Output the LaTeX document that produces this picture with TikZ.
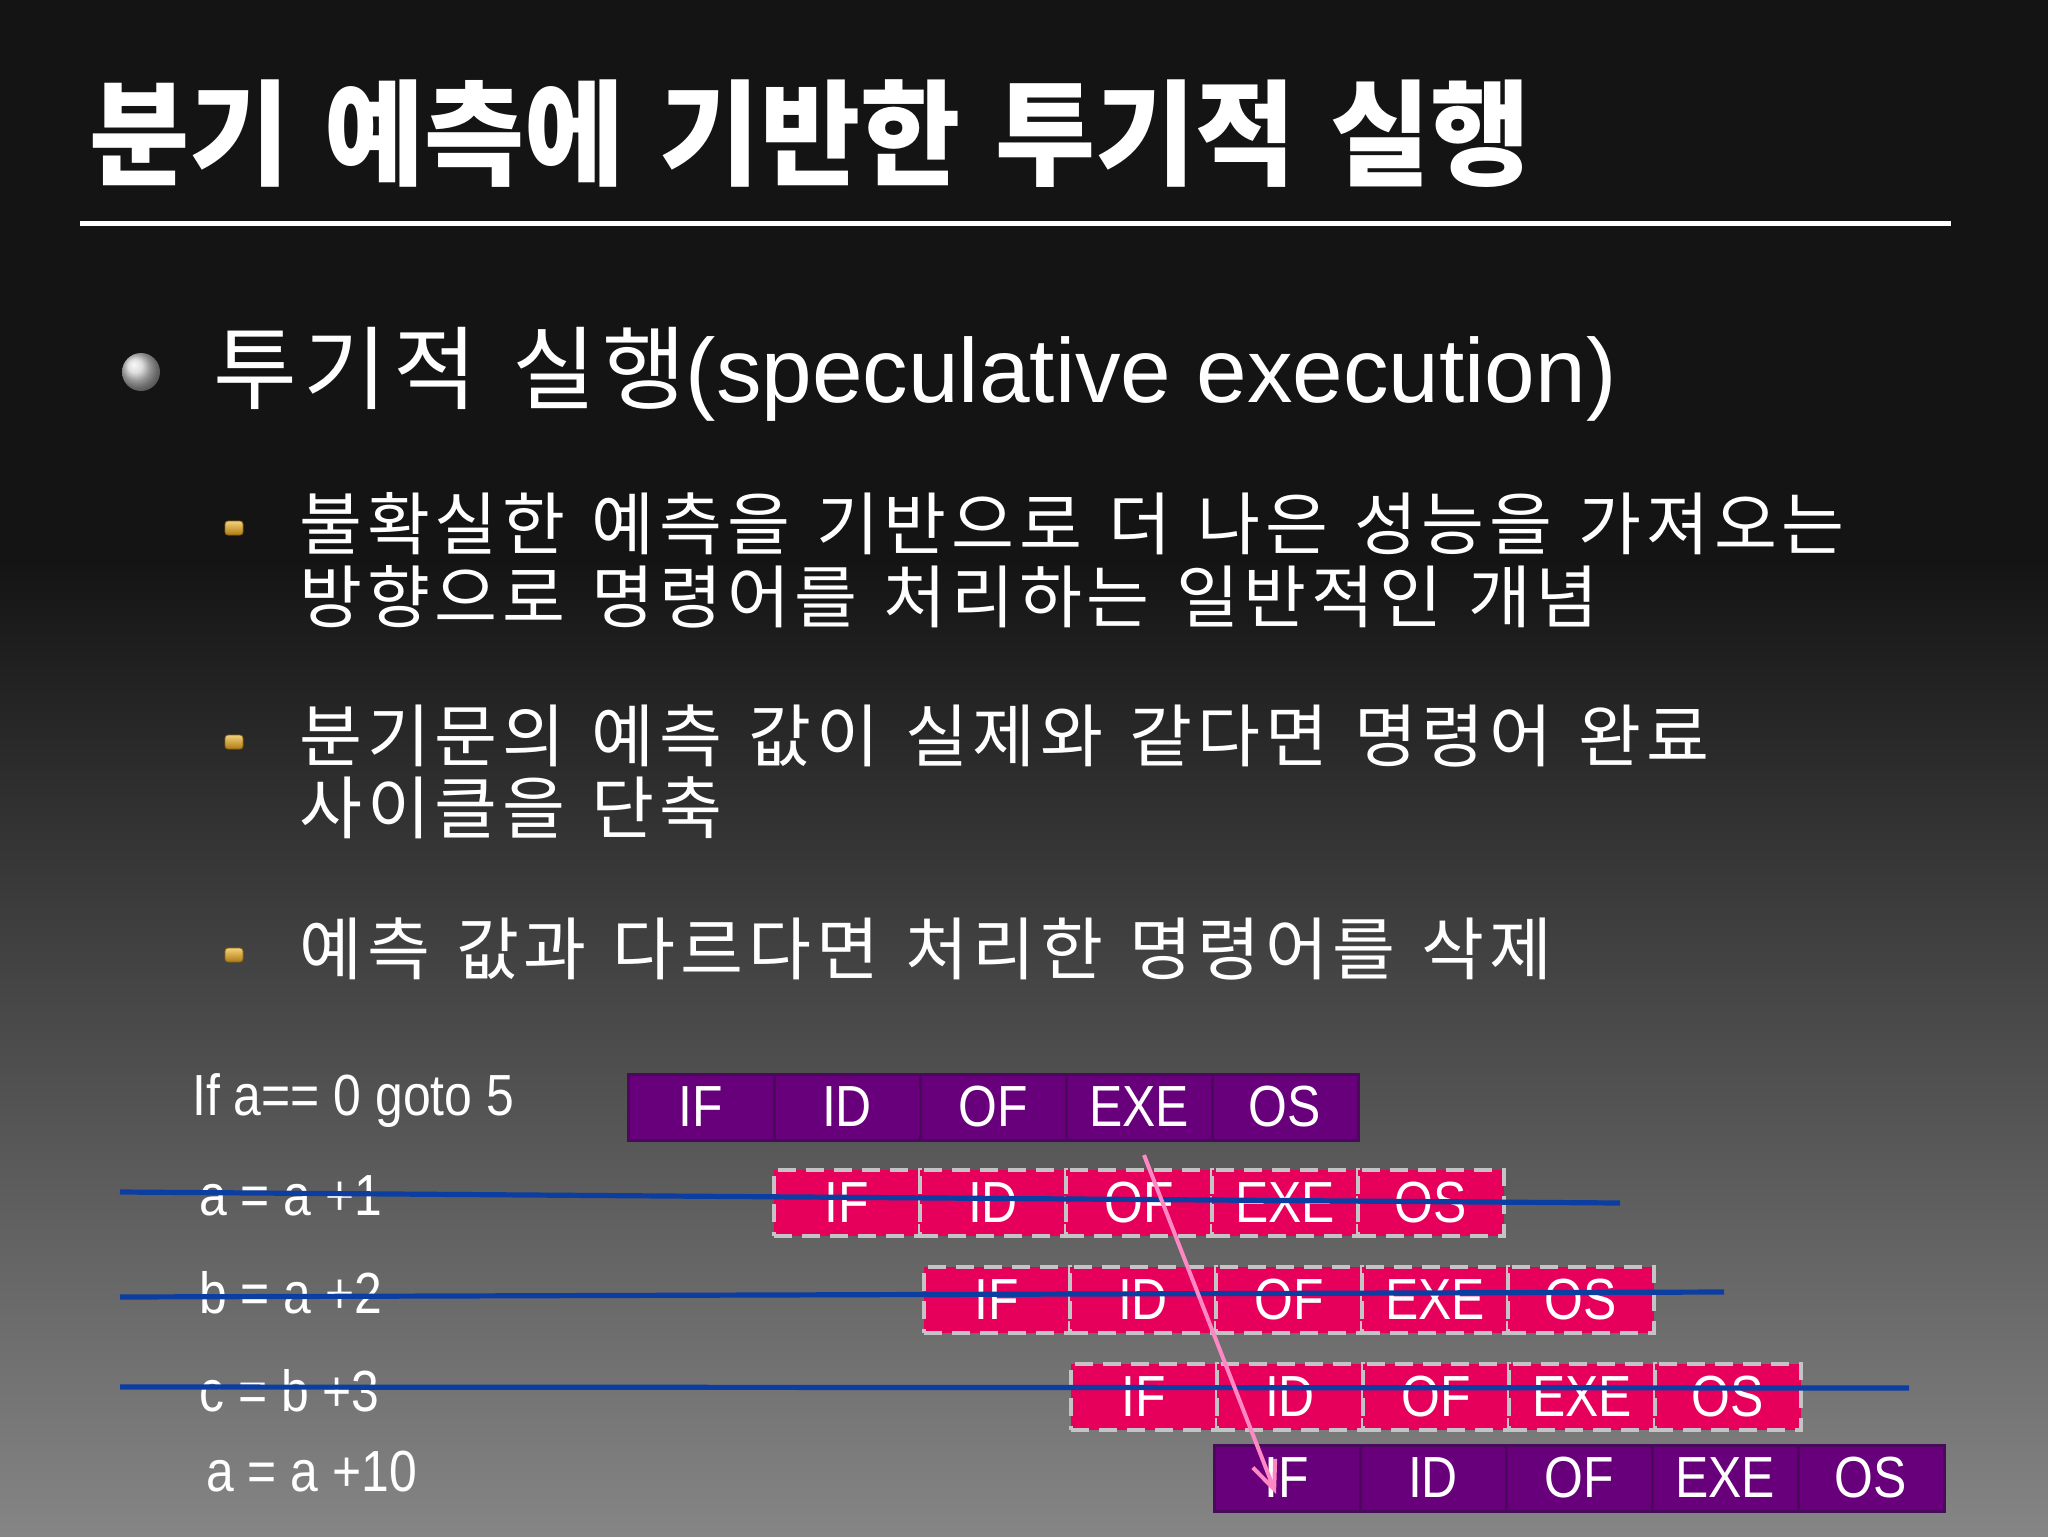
\documentclass[tikz,border=0pt]{standalone}
\usepackage{fontspec}
\usepackage{graphicx}
\usetikzlibrary{arrows.meta}
\setmainfont{Liberation Sans}
\newfontfamily\kr[WordSpace=1.4]{Noto Sans CJK KR}
\newfontfamily\krs[WordSpace=1.3,LetterSpace=7]{Noto Sans CJK KR}
\newfontfamily\krt[WordSpace=1.4,FakeStretch=0.95]{Noto Sans CJK KR}
\newfontfamily\nar[FakeStretch=0.86]{Liberation Sans}
\definecolor{bgtop}{HTML}{141414}
\definecolor{bgbot}{HTML}{858585}
\definecolor{purp}{HTML}{67007A}
\definecolor{purpdark}{HTML}{4A0A5C}
\definecolor{pinkc}{HTML}{E6005C}
\definecolor{dashgray}{HTML}{C4C4C4}
\definecolor{strike}{HTML}{0C3DA0}
\definecolor{arrowpink}{HTML}{FF88C4}
\definecolor{goldtop}{HTML}{F2D27A}
\definecolor{goldbot}{HTML}{B07A12}
\tikzset{
  cellp/.style={fill=purp, draw=purpdark, line width=1.5pt, minimum width=73pt, minimum height=33pt,
    inner sep=0pt, text=white, font=\nar\fontsize{29}{29}\selectfont},
  cellk/.style={fill=pinkc, draw=dashgray, line width=2pt, dash pattern=on 9pt off 5pt,
    minimum width=73pt, minimum height=33pt, inner sep=0pt, text=white, font=\nar\fontsize{29}{29}\selectfont},
  codelbl/.style={anchor=west, inner sep=0pt, text=white, font=\nar\fontsize{29}{29}\selectfont},
  subtxt/.style={anchor=base west, inner sep=0pt, text=white, font=\krs\fontsize{34.2}{34.2}\selectfont},
  goldbullet/.style={rounded corners=1.5pt, top color=goldtop, bottom color=goldbot, draw=goldbot!80!black, line width=0.4pt},
  strikeline/.style={draw=strike, line width=2.6pt},
  jumparrow/.style={draw=arrowpink, line width=2pt, -{Straight Barb[length=14pt,width=12pt,line width=2pt]}}
}
\begin{document}
\begin{tikzpicture}[x=0.5pt,y=-0.5pt]
\useasboundingbox (0,0) rectangle (2048,1536);
% background
\fill[bgtop] (0,0) rectangle (2048,1536);
\shade[top color=bgtop, bottom color=bgbot] (0,560) rectangle (2048,1536);
% title
\node[anchor=west, inner sep=0pt, text=white, font=\krt\bfseries\fontsize{57.3}{57.3}\selectfont] (title) at (89,134) {분기 예측에 기반한 투기적 실행};
\draw[white, line width=2.5pt] (80,223) -- (1951,223);
% main bullet
\shade[ball color=gray!35!white] (141,372) circle (9.5pt);
\node[anchor=base west, inner sep=0pt, text=white, font=\fontsize{45.5}{45.5}\selectfont] (b1) at (213,402) {{\krs 투기적 실행}(speculative execution)};
% sub bullets
\foreach \yy in {528,742,955}{
  \path[goldbullet] (225,\yy-7) rectangle (243,\yy+7);
}
\node[subtxt] (s1) at (299,549) {불확실한 예측을 기반으로 더 나은 성능을 가져오는};
\node[subtxt] (s2) at (299,622) {방향으로 명령어를 처리하는 일반적인 개념};
\node[subtxt] (s3) at (299,761) {분기문의 예측 값이 실제와 같다면 명령어 완료};
\node[subtxt] (s4) at (299,833) {사이클을 단축};
\node[subtxt] (s5) at (299,974) {예측 값과 다르다면 처리한 명령어를 삭제};
% code labels
\node[codelbl] (l0) at (192,1101) {If a== 0 goto 5};
\node[codelbl] (l1) at (199,1196) {a = a +1};
\node[codelbl] (l2) at (199,1293) {b = a +2};
\node[codelbl] (l3) at (199,1391) {c = b +3};
\node[codelbl] (l4) at (206,1472) {a = a +10};
% pipeline cells
\foreach \r/\yy/\st/\dx in {0/1107/cellp/0,1/1203/cellk/0,2/1300/cellk/4,3/1397/cellk/5,4/1478/cellp/2}{
  \foreach \k/\t in {0/IF,1/ID,2/OF,3/EXE,4/OS}{
    \node[\st] (c\r\k) at ({628+146*(\k+\r)+73+\dx},\yy) {\t};
  }
}
% strike lines
\coordinate (s1a) at (120,1192); \coordinate (s1b) at (1620,1203);
\coordinate (s2a) at (120,1297); \coordinate (s2b) at (1724,1292);
\coordinate (s3a) at (120,1387); \coordinate (s3b) at (1909,1388);
\draw[strikeline] (s1a) -- (s1b);
\draw[strikeline] (s2a) -- (s2b);
\draw[strikeline] (s3a) -- (s3b);
% jump arrow
\coordinate (ja) at (1144,1155);
\coordinate (jb) at (1276,1494);
\draw[jumparrow] (ja) -- (jb);
\end{tikzpicture}
\end{document}
